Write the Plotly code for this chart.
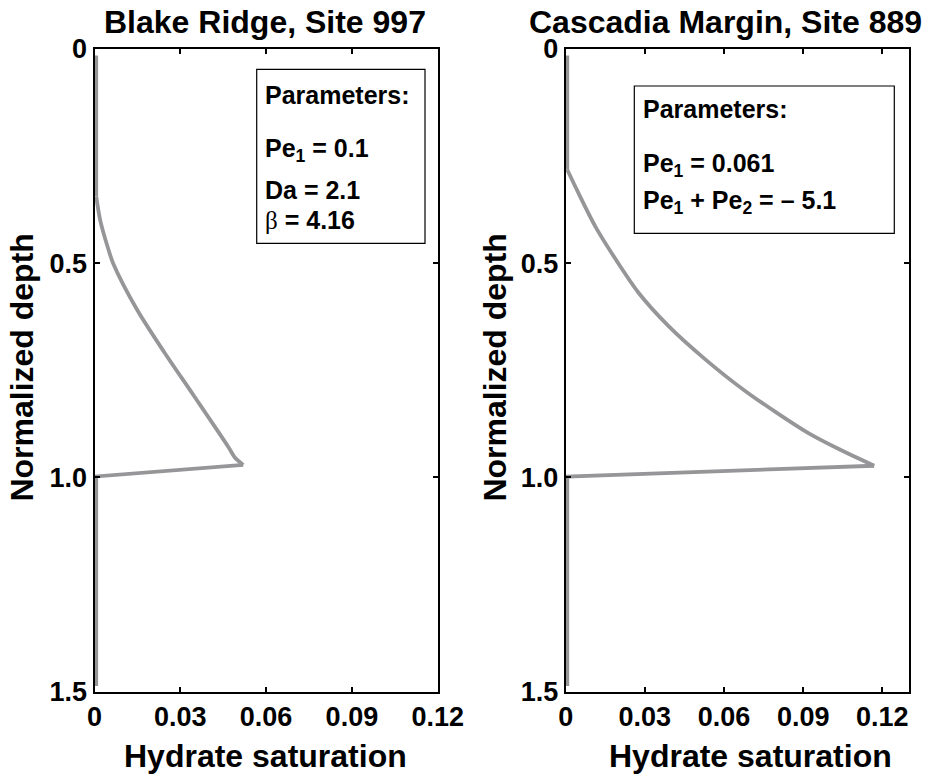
import plotly.graph_objects as go

# Hydrate saturation profiles vs. normalized depth
blake_depth = [0.015, 0.344, 0.40, 0.46, 0.50, 0.61, 0.709, 0.81, 0.929, 0.953, 0.971, 0.998, 1.487]
blake_sat = [0.0006, 0.0006, 0.0020, 0.0045, 0.0065, 0.0150, 0.0245, 0.0348, 0.0468, 0.0490, 0.0520, 0.0006, 0.0006]

cascadia_depth = [0.015, 0.282, 0.336, 0.414, 0.4915, 0.569, 0.647, 0.7245, 0.80, 0.895, 0.934, 0.973, 0.998, 1.487]
cascadia_sat = [0.0006, 0.0006, 0.0048, 0.0112, 0.0190, 0.0276, 0.0390, 0.0529, 0.0684, 0.0915, 0.1035, 0.1169, 0.0006, 0.0006]

x_tickvals = [0, 0.03, 0.06, 0.09, 0.12]
x_ticktext = ["0", "0.03", "0.06", "0.09", "0.12"]
y_tickvals = [0, 0.5, 1.0, 1.5]
y_ticktext = ["0", "0.5", "1.0", "1.5"]

titles = ["Blake Ridge, Site 997", "Cascadia Margin, Site 889"]
blake_params = ["Parameters:", "Pe<sub>1</sub> = 0.1", "Da = 2.1",
                '<span style="font-family:Liberation Serif;font-weight:normal">β</span> = 4.16']
cascadia_params = ["Parameters:", "Pe<sub>1</sub> = 0.061", "Pe<sub>1</sub> + Pe<sub>2</sub> = \u2013 5.1"]

W, H = 928, 776
FONT = "Liberation Sans, Arial, Helvetica, sans-serif"
LINE_GRAY = "rgb(150,150,153)"
LINE_W = 3.8


def px(x):
    return x / W


def py(y):
    return 1 - y / H


fig = go.Figure()


def add_profile(sat, depth, xa, ya):
    """Straight parts (upper zero section, drop back at the base, lower zero
    section) are drawn as plain segments; the growth curve between the onset
    and the peak is drawn smoothed."""
    peak = max(range(len(sat)), key=lambda i: sat[i])
    onset = 1
    xs = sat[:onset + 1] + [None] + sat[peak:]
    ys = depth[:onset + 1] + [None] + depth[peak:]
    fig.add_trace(go.Scatter(x=xs, y=ys, mode="lines", connectgaps=False,
                             line=dict(color=LINE_GRAY, width=LINE_W),
                             xaxis=xa, yaxis=ya, showlegend=False))
    fig.add_trace(go.Scatter(x=sat[onset:peak + 1], y=depth[onset:peak + 1], mode="lines",
                             line=dict(color=LINE_GRAY, width=LINE_W, shape="spline", smoothing=0.8),
                             xaxis=xa, yaxis=ya, showlegend=False))


add_profile(blake_sat, blake_depth, "x", "y")
add_profile(cascadia_sat, cascadia_depth, "x2", "y2")

tickfont = dict(family=FONT, size=27, color="black", weight="bold")
xcommon = dict(tickmode="array", tickvals=x_tickvals, ticktext=x_ticktext,
               ticks="inside", ticklen=5, tickwidth=1.5, tickcolor="black",
               showline=True, linewidth=2, linecolor="black", mirror="ticks",
               showgrid=False, zeroline=False, tickfont=tickfont,
               automargin=False, fixedrange=True)
ycommon = dict(tickmode="array", tickvals=y_tickvals, ticktext=y_ticktext,
               range=[1.5, 0], ticks="inside", ticklen=5, tickwidth=1.5,
               tickcolor="black", showline=True, linewidth=2, linecolor="black",
               mirror="ticks", showgrid=False, zeroline=False, tickfont=tickfont,
               automargin=False, fixedrange=True)

ydom = [py(691.5), py(49)]
fig.update_layout(
    width=W, height=H,
    margin=dict(l=0, r=0, t=0, b=0),
    paper_bgcolor="white", plot_bgcolor="white",
    xaxis=dict(domain=[px(94.5), px(437.7)], range=[0, 0.12], anchor="y", **xcommon),
    yaxis=dict(domain=ydom, anchor="x", **ycommon),
    xaxis2=dict(domain=[px(565.7), px(908.7)], range=[0, 0.13], anchor="y2", **xcommon),
    yaxis2=dict(domain=ydom, anchor="x2", **ycommon),
)

annotations = []


def text(x, y, s, size, xanchor="center", yanchor="top", angle=0):
    annotations.append(dict(x=px(x), y=py(y), xref="paper", yref="paper", text=s,
                            showarrow=False, xanchor=xanchor, yanchor=yanchor,
                            textangle=angle, borderpad=0, borderwidth=0,
                            font=dict(family=FONT, size=size, color="black", weight="bold")))


# panel titles (top of text box given)
text(265, 33 - 0.905 * 32, titles[0], 32)
text(725, 33 - 0.905 * 32, titles[1], 32)

# x-axis titles
text(265, 766.7 - 0.905 * 32, "Hydrate saturation", 32)
text(750, 766.7 - 0.905 * 32, "Hydrate saturation", 32)

# y-axis titles
text(21.6, 368, "Normalized depth", 32, yanchor="middle", angle=-90)
text(494.6, 368, "Normalized depth", 32, yanchor="middle", angle=-90)

# parameter boxes
for xl, baselines, lines in [(265, [103.3, 156.7, 198.3, 228.3], blake_params),
                             (642.7, [117.3, 171.7, 208.3], cascadia_params)]:
    for b, s in zip(baselines, lines):
        text(xl, b - 0.905 * 25, s, 25, xanchor="left")

fig.update_layout(annotations=annotations)

shapes = []
for (x0, y0, x1, y1) in [(256.7, 69.3, 425, 243.3), (634.3, 86, 894.3, 233.3)]:
    shapes.append(dict(type="rect", xref="paper", yref="paper",
                       x0=px(x0), x1=px(x1), y0=py(y0), y1=py(y1),
                       line=dict(color="black", width=1.2), fillcolor="rgba(0,0,0,0)"))
fig.update_layout(shapes=shapes)

fig.write_html("out.html")
